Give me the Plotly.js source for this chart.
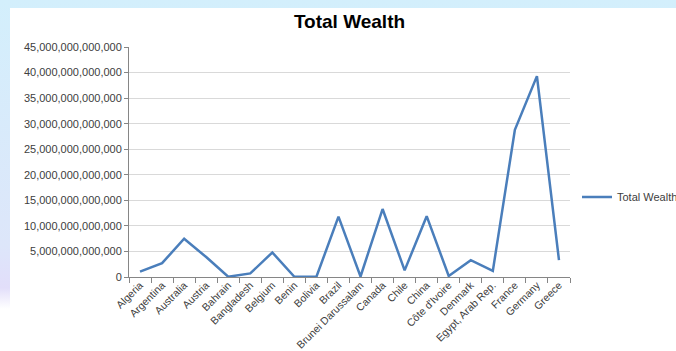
<!DOCTYPE html>
<html>
<head>
<meta charset="utf-8">
<script src="https://cdn.plot.ly/plotly-3.0.1.min.js"></script>
<style>
  html, body { margin: 0; padding: 0; width: 676px; height: 351px; overflow: hidden; }
  body { background: linear-gradient(to bottom, #d3effc 0%, #dde6fa 70%, #e2defa 82%, #ffffff 88%); position: relative; }
  #chart { position: absolute; left: 10px; top: 8px; width: 680px; height: 343px; }
</style>
</head>
<body>
<div id="chart"></div>
<script>
const countries = ["Algeria","Argentina","Australia","Austria","Bahrain","Bangladesh","Belgium","Benin","Bolivia","Brazil","Brunei Darussalam","Canada","Chile","China","Côte d'Ivoire","Denmark","Egypt, Arab Rep.","France","Germany","Greece"];
const totalWealth = [1.04e12, 2.7e12, 7.5e12, 3.9e12, 0.05e12, 0.7e12, 4.8e12, 0.05e12, 0.05e12, 11.8e12, 0.1e12, 13.3e12, 1.3e12, 11.9e12, 0.2e12, 3.3e12, 1.2e12, 28.8e12, 39.3e12, 3.3e12];
const seriesName = "Total Wealth";
const chartTitle = "Total Wealth";
const yTicks = [0, 5e12, 10e12, 15e12, 20e12, 25e12, 30e12, 35e12, 40e12, 45e12];

const W = 680, H = 343;
const mL = 119, mR = W - 560, mT = 39, mB = 74;

Plotly.newPlot('chart', [{
  x: countries,
  y: totalWealth,
  type: 'scatter',
  mode: 'lines',
  name: seriesName,
  line: { color: '#4a7ebb', width: 2.5 },
  showlegend: true
}], {
  width: W, height: H,
  margin: { l: mL, r: mR, t: mT, b: mB, pad: 0, autoexpand: false },
  paper_bgcolor: '#ffffff',
  plot_bgcolor: '#ffffff',
  font: { family: 'Liberation Sans, Arial, sans-serif', size: 11, color: '#404040' },
  title: {
    text: '<b>' + chartTitle + '</b>',
    font: { family: 'Liberation Sans, Arial, sans-serif', size: 19, color: '#000000' },
    x: 0.5, xref: 'paper', xanchor: 'center',
    y: 1 - 13 / H, yref: 'container', yanchor: 'middle'
  },
  xaxis: {
    type: 'category',
    tickangle: -45,
    tickson: 'boundaries',
    ticks: 'outside', ticklen: 5, tickcolor: '#868686',
    ticklabelstandoff: -3,
    showline: true, linecolor: '#868686', linewidth: 1,
    showgrid: false, zeroline: false,
    tickfont: { size: 10.5, color: '#404040' },
    range: [-0.5, countries.length - 0.5]
  },
  yaxis: {
    range: [0, 45e12],
    tickvals: yTicks,
    tickformat: ',.0f',
    ticks: 'outside', ticklen: 4, tickcolor: '#868686',
    showline: true, linecolor: '#868686', linewidth: 1,
    showgrid: true, gridcolor: '#d9d9d9', gridwidth: 1,
    zeroline: false,
    tickfont: { size: 11, color: '#404040' }
  },
  legend: {
    x: (577 - 129) / 441, xref: 'paper', xanchor: 'left',
    y: (277 - 197) / 230, yref: 'paper', yanchor: 'middle',
    font: { size: 11, color: '#404040' },
    bgcolor: 'rgba(0,0,0,0)'
  }
}, { staticPlot: true, displayModeBar: false });
</script>
</body>
</html>
